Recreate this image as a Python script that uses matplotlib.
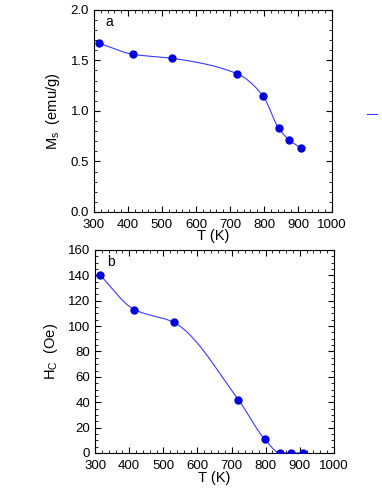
import numpy as np
import matplotlib
matplotlib.use("Agg")
from matplotlib import pyplot as plt
from matplotlib.ticker import MultipleLocator
from matplotlib.lines import Line2D

plt.rcParams['font.family'] = ['Liberation Sans', 'DejaVu Sans']
plt.rcParams['mathtext.fontset'] = 'custom'
plt.rcParams['mathtext.rm'] = 'Liberation Sans'
plt.rcParams['mathtext.it'] = 'Liberation Sans'

# temperatures (K)
T = [315, 415, 530, 720, 797, 843, 875, 910]
# saturation magnetisation (emu/g)
Ms = [1.67, 1.56, 1.52, 1.37, 1.15, 0.83, 0.71, 0.63]
# coercivity (Oe)
Hc = [140, 113, 103, 42, 11, 0, 0, 0]

pt_col = '#0000dd'
ln_col = '#3a3aff'


def pchip(x, y, xs):
    # monotone cubic through the measured points
    x = np.asarray(x, float)
    y = np.asarray(y, float)
    h = np.diff(x)
    d = np.diff(y) / h
    n = len(x)
    m = np.zeros(n)
    for k in range(1, n - 1):
        if d[k - 1] * d[k] > 0:
            w1 = 2 * h[k] + h[k - 1]
            w2 = h[k] + 2 * h[k - 1]
            m[k] = (w1 + w2) / (w1 / d[k - 1] + w2 / d[k])
    m[0] = d[0]
    m[-1] = d[-1]
    out = np.empty_like(xs)
    for j, xv in enumerate(xs):
        k = min(np.searchsorted(x, xv) - 1, n - 2)
        k = max(k, 0)
        t = (xv - x[k]) / h[k]
        h00 = 2 * t**3 - 3 * t**2 + 1
        h10 = t**3 - 2 * t**2 + t
        h01 = -2 * t**3 + 3 * t**2
        h11 = t**3 - t**2
        out[j] = h00 * y[k] + h10 * h[k] * m[k] + h01 * y[k + 1] + h11 * h[k] * m[k + 1]
    return out


fig = plt.figure(figsize=(3.82, 4.94), dpi=100)
ax1 = fig.add_axes([0.246, 0.571, 0.623, 0.409])
ax2 = fig.add_axes([0.249, 0.083, 0.625, 0.411])

xs = np.linspace(T[0], T[-1], 400)

for ax, y, lab, letter in [(ax1, Ms, r'M$_{\mathrm{s}}$  (emu/g)', 'a'),
                           (ax2, Hc, r'H$_{\mathrm{C}}$  (Oe)', 'b')]:
    ax.plot(xs, pchip(T, y, xs), color=ln_col, lw=0.8)
    ax.plot(T, y, 'o', color=pt_col, ms=5, zorder=3)
    ax.set_xlim(300, 1000)
    ax.xaxis.set_major_locator(MultipleLocator(100))
    ax.xaxis.set_minor_locator(MultipleLocator(20))
    ax.tick_params(which='both', direction='in', top=True, right=True, labelsize=9.5)
    ax.tick_params(axis='x', pad=5)
    ax.tick_params(which='major', length=4)
    ax.tick_params(which='minor', length=2.2)
    ax.set_xlabel('T (K)', fontsize=10.5, labelpad=-1)
    ax.set_ylabel(lab, fontsize=10.5, labelpad=6)
    ax.text(0.05, 0.975, letter, transform=ax.transAxes, fontsize=10, va='top')
    for s in ax.spines.values():
        s.set_linewidth(0.8)

ax1.set_ylim(0, 2.0)
ax1.yaxis.set_major_locator(MultipleLocator(0.5))
ax1.yaxis.set_minor_locator(MultipleLocator(0.1))
ax1.yaxis.set_major_formatter(plt.FormatStrFormatter('%.1f'))

ax2.set_ylim(0, 160)
ax2.yaxis.set_major_locator(MultipleLocator(20))
ax2.yaxis.set_minor_locator(MultipleLocator(5))

# stray legend stub at the right edge
fig.add_artist(Line2D([367 / 382, 377 / 382], [1 - 114 / 494, 1 - 114 / 494],
                      color=ln_col, lw=0.8, transform=fig.transFigure))

fig.savefig('out.png', dpi=100)
